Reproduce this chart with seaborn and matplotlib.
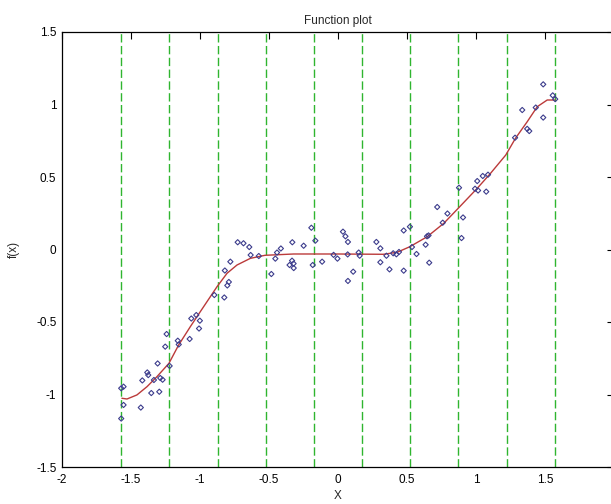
import matplotlib
matplotlib.use("Agg")
import matplotlib.pyplot as plt
import seaborn as sns
import pandas as pd

# ---- data ----
pts_x = [-1.571, -1.554, -1.554, -1.571, -1.429, -1.418, -1.382, -1.375, -1.353, -1.334,
         -1.307, -1.295, -1.288, -1.271, -1.242, -1.252, -1.220, -1.161, -1.154, -1.075,
         -1.063, -1.027, -1.001, -1.007, -0.896, -0.824, -0.820, -0.802, -0.791, -0.780,
         -0.727, -0.685, -0.643, -0.633, -0.574, -0.483, -0.454, -0.442, -0.414, -0.351,
         -0.333, -0.322, -0.321, -0.331, -0.249, -0.193, -0.164, -0.183, -0.115, -0.032,
         -0.004, 0.036, 0.054, 0.072, 0.070, 0.072, 0.110, 0.150, 0.157, 0.278,
         0.307, 0.307, 0.351, 0.373, 0.400, 0.423, 0.442, 0.476, 0.476, 0.521,
         0.536, 0.569, 0.635, 0.645, 0.656, 0.661, 0.719, 0.759, 0.793, 0.877,
         0.906, 0.895, 0.993, 1.015, 1.009, 1.049, 1.087, 1.074, 1.283, 1.335,
         1.371, 1.386, 1.433, 1.487, 1.487, 1.556, 1.574]
pts_y = [-0.957, -0.946, -1.072, -1.166, -1.090, -0.903, -0.848, -0.866, -0.990, -0.900,
         -0.786, -0.981, -0.886, -0.898, -0.583, -0.670, -0.803, -0.629, -0.655, -0.617,
         -0.476, -0.452, -0.491, -0.545, -0.314, -0.331, -0.145, -0.248, -0.224, -0.084,
         0.050, 0.043, 0.017, -0.038, -0.045, -0.169, -0.063, -0.021, 0.007, -0.107,
         -0.077, -0.097, -0.128, 0.050, 0.026, 0.150, 0.061, -0.107, -0.084, -0.037,
         -0.063, 0.123, 0.091, 0.052, -0.034, -0.217, -0.153, -0.021, -0.043, 0.052,
         0.008, -0.088, -0.043, -0.137, -0.026, -0.033, -0.017, 0.131, -0.146, 0.157,
         0.017, -0.031, 0.033, 0.091, 0.097, -0.091, 0.293, 0.185, 0.248, 0.426,
         0.221, 0.079, 0.419, 0.407, 0.472, 0.507, 0.516, 0.399, 0.771, 0.962,
         0.832, 0.817, 0.979, 1.139, 0.910, 1.063, 1.037]

curve_x = [-1.566, -1.529, -1.457, -1.384, -1.312, -1.225, -1.155, -1.070, -0.998,
           -0.877, -0.804, -0.732, -0.635, -0.529, -0.321, -0.007, 0.330, 0.429,
           0.520, 0.646, 0.767, 0.871, 1.009, 1.105, 1.216, 1.286, 1.371, 1.444,
           1.516, 1.571]
curve_y = [-1.026, -1.031, -1.003, -0.946, -0.877, -0.785, -0.659, -0.532, -0.429,
           -0.257, -0.164, -0.107, -0.061, -0.040, -0.031, -0.031, -0.033, -0.019,
           0.019, 0.088, 0.181, 0.284, 0.422, 0.525, 0.652, 0.767, 0.881, 0.985,
           1.031, 1.031]

knots = [-1.571, -1.222, -0.873, -0.524, -0.175, 0.175, 0.524, 0.873, 1.222, 1.571]

x_ticks = [-2, -1.5, -1, -0.5, 0, 0.5, 1, 1.5]
x_ticklabels = ["-2", "-1.5", "-1", "-0.5", "0", "0.5", "1", "1.5"]
y_ticks = [-1.5, -1, -0.5, 0, 0.5, 1, 1.5]
y_ticklabels = ["-1.5", "-1", "-0.5", "0", "0.5", "1", "1.5"]

# ---- style ----
sns.set_theme(style="white")
plt.rcParams["font.family"] = ["Liberation Sans", "DejaVu Sans"]

fig = plt.figure(figsize=(6.11, 5.04), dpi=100)
ax = fig.add_axes([62 / 611, 37 / 504, 552 / 611, 435 / 504])

for k in knots:
    ax.axvline(k, color="#2fb52f", lw=1.0, linestyle=(0, (6, 2.5)), zorder=1)

pts = pd.DataFrame({"x": pts_x, "y": pts_y})
sns.scatterplot(data=pts, x="x", y="y", ax=ax, marker="D", s=7,
                facecolor="none", edgecolor="#3c3c8c", linewidth=0.8, zorder=3)
ax.collections[-1].set_facecolor("none")

cur = pd.DataFrame({"x": curve_x, "y": curve_y})
sns.lineplot(data=cur, x="x", y="y", ax=ax, color="#bb3a3a", lw=1.0,
             estimator=None, sort=True, zorder=2)

ax.set_xlim(-2, 2)
ax.set_ylim(-1.5, 1.5)
ax.set_xticks(x_ticks)
ax.set_xticklabels(x_ticklabels)
ax.set_yticks(y_ticks)
ax.set_yticklabels(y_ticklabels)

ax.tick_params(direction="in", length=5, width=0.8, top=True, right=True,
               labelsize=8.5, colors="black", pad=4)
ax.tick_params(axis="x", pad=5)
for sp in ax.spines.values():
    sp.set_visible(True)
    sp.set_color("black")
    sp.set_linewidth(0.9)

ax.set_title("Function plot", fontsize=8.5, pad=6)
ax.set_xlabel("X", fontsize=8.5, labelpad=3)
ax.set_ylabel("f(x)", fontsize=8.5, labelpad=12)
ax.grid(False)

fig.savefig("out.png", dpi=100, facecolor="white")
